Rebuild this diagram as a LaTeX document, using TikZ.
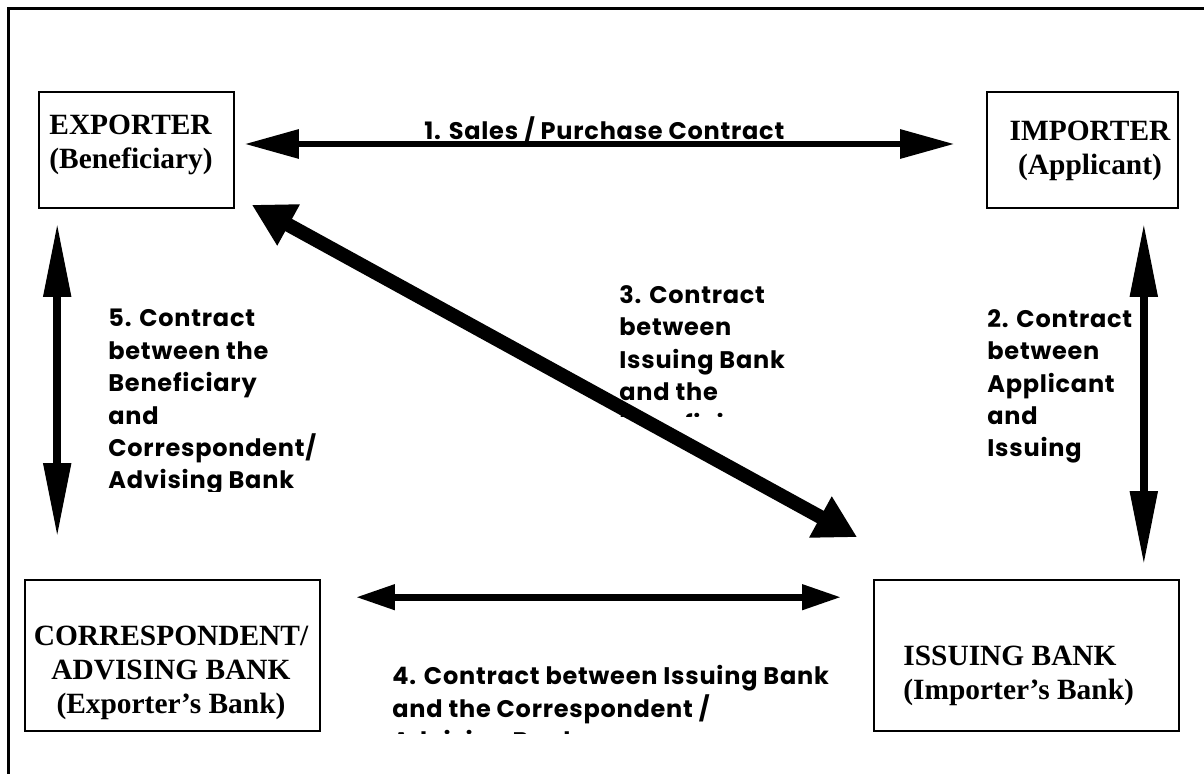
\documentclass[tikz,border=0pt]{standalone}
\usepackage{fontspec}
\setmainfont{Liberation Serif}
\newfontfamily\lblfont{Poppins}[LetterSpace=3.2]
\usepackage{tikz}
\usetikzlibrary{arrows.meta,calc}

\tikzset{
  partybox/.style={draw, line width=0.8pt, inner sep=0pt},
  partytext/.style={font=\bfseries\fontsize{14.7}{17}\selectfont, inner sep=0pt},
  contracttext/.style={font=\lblfont\bfseries\fontsize{12}{16.2}\selectfont, inner sep=0pt, align=left, anchor=north west},
  thinarrow/.style={line width=3pt, {Triangle[length=27pt,width=14pt]}-{Triangle[length=27pt,width=14pt]}},
  bankarrow/.style={line width=3.5pt, {Triangle[length=19.5pt,width=12pt]}-{Triangle[length=19.5pt,width=12pt]}},
  tallarrow/.style={line width=4pt, {Triangle[length=37pt,width=13pt]}-{Triangle[length=37pt,width=13pt]}},
  thickarrow/.style={line width=7pt, {Triangle[length=21pt,width=22pt]}-{Triangle[length=21pt,width=22pt]}}
}

\begin{document}
\begin{tikzpicture}[x=0.5pt,y=-0.5pt]

\useasboundingbox (0,0) rectangle (1204,774);

% outer frame (runs off the right and bottom edges)
\draw[line width=1.5pt] (8,774) -- (8,9) -- (1204,9);

% the four parties
\node[partybox, minimum width=97.5pt, minimum height=58pt] (exp) at (136.5,150) {};
\node[partybox, minimum width=95.5pt, minimum height=58pt] (imp) at (1082.5,150) {};
\node[partybox, minimum width=147.5pt, minimum height=75.5pt] (corr) at (172.5,655.5) {};
\node[partybox, minimum width=152.5pt, minimum height=75.5pt] (iss) at (1026.5,655.5) {};

\node[partytext, align=left, anchor=north west] (exptxt) at (49,115) {EXPORTER\\(Beneficiary)};
\node[partytext, align=center, anchor=north] (imptxt) at (1090,121) {IMPORTER\\(Applicant)};
\node[partytext, align=center, anchor=north] (corrtxt) at (171,626) {CORRESPONDENT/\\ADVISING BANK\\(Exporter’s Bank)};
\node[partytext, align=left, anchor=north west] (isstxt) at (903,646) {ISSUING BANK\\(Importer’s Bank)};

% 1. exporter <-> importer
\draw[thinarrow] ($(exp.east)+(10,-6)$) -- ($(imp.west)+(-32,-6)$);
\node[contracttext] (sales) at (424,116) {1. Sales / Purchase Contract};

% 2. importer <-> issuing bank
\draw[tallarrow] ($(imp.south east)+(-35,14)$) -- ($(iss.north east)+(-36,-14)$);
\begin{scope}
\clip (970,290) rectangle (1138,465);
\node[contracttext] (applicant) at (987,309) {2. Contract\\between\\Applicant\\and\\Issuing};
\end{scope}

% 3. issuing bank <-> exporter
\draw[thickarrow] ($(exp.south east)+(17,-4)$) -- ($(iss.north west)+(-16,-42)$);
\begin{scope}
\clip (600,270) rectangle (800,417);
\node[contracttext] (issuing) at (619,285) {3. Contract\\between\\Issuing Bank\\and the\\Beneficiary};
\end{scope}

% 4. correspondent <-> issuing bank
\draw[bankarrow] ($(corr.north east)+(35,18)$) -- ($(iss.north west)+(-32,18)$);
\begin{scope}
\clip (380,640) rectangle (860,733);
\node[contracttext] (banks) at (392,665) {4. Contract between Issuing Bank\\and the Correspondent /\\Advising Bank};
\end{scope}

% 5. exporter <-> correspondent
\draw[tallarrow] ($(exp.south west)+(19,14)$) -- ($(corr.north west)+(33,-42)$);
\begin{scope}
\clip (100,300) rectangle (330,492);
\node[contracttext] (beneficiary) at (108,309) {5. Contract\\between the\\Beneficiary\\and\\Correspondent/\\Advising Bank};
\end{scope}

\end{tikzpicture}
\end{document}
